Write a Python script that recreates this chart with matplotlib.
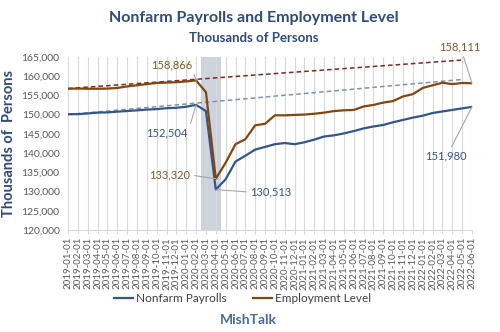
#!/usr/bin/env python3
"""Nonfarm payrolls vs employment level, 2019-2022."""

import matplotlib
matplotlib.use("Agg")
import matplotlib.pyplot as plt

# -------------------------------------------------------------------
# Data (thousands of persons, monthly)
# -------------------------------------------------------------------
months = (
    [f"2019-{m:02d}-01" for m in range(1, 13)]
    + [f"2020-{m:02d}-01" for m in range(1, 13)]
    + [f"2021-{m:02d}-01" for m in range(1, 13)]
    + [f"2022-{m:02d}-01" for m in range(1, 7)]
)

nonfarm = [
    150080, 150100, 150280, 150500, 150560, 150740, 150910, 151090,
    151280, 151420, 151640, 151750, 152030, 152504, 150900, 130513,
    133200, 137800, 139300, 140900, 141600, 142300, 142600, 142300,
    142800, 143500, 144300, 144600, 145100, 145700, 146400, 146900,
    147300, 148000, 148600, 149200, 149700, 150400, 150800, 151200,
    151600, 151980,
]

employment = [
    156700, 156750, 156700, 156700, 156750, 156900, 157300, 157600,
    157900, 158200, 158300, 158400, 158600, 158866, 155800, 133320,
    137500, 142300, 143600, 147200, 147600, 149800, 149800, 149900,
    150000, 150200, 150500, 150900, 151100, 151200, 152100, 152500,
    153100, 153500, 154700, 155300, 156900, 157600, 158250, 157900,
    158200, 158111,
]

# pre-pandemic trend lines (start / end month index and value)
trend_idx = [0, 40]
nonfarm_trend = [150000, 159100]
employment_trend = [156750, 164150]

recession = (13.5, 15.5)

# -------------------------------------------------------------------
# Style
# -------------------------------------------------------------------
BLUE = "#34558b"
BROWN = "#84460f"
TITLE = "#2e4b7a"
TICK = "#595959"
LEADER = "#a6a6a6"
plt.rcParams["font.family"] = ["Lato", "DejaVu Sans"]

fig = plt.figure(figsize=(5.0, 3.32), dpi=100)
ax = fig.add_axes([0.136, 0.307, 0.808, 0.522])

x = list(range(len(months)))

ax.axvspan(*recession, color="#cdd3dc", zorder=1, lw=0)
ax.plot(trend_idx, employment_trend, ls=(0, (3, 2)), color="#7b2a22", lw=1.1, zorder=3)
ax.plot(trend_idx, nonfarm_trend, ls=(0, (3, 2)), color="#7d92b3", lw=1.1, zorder=3)
ax.plot(x, nonfarm, color=BLUE, lw=1.6, zorder=4, label="Nonfarm Payrolls")
ax.plot(x, employment, color=BROWN, lw=1.6, zorder=4, label="Employment Level")

ax.set_xlim(0, len(months) - 1)
ax.set_ylim(120000, 165000)
ax.set_xticks(x)
ax.set_xticklabels(months, rotation=90, fontsize=7, color=TICK)
yt = list(range(120000, 165001, 5000))
ax.set_yticks(yt)
ax.set_yticklabels([f"{v:,}" for v in yt], fontsize=7.5, color=TICK)
ax.tick_params(axis="y", length=0, pad=6)
ax.tick_params(axis="x", length=3, color="#d9d9d9", pad=2)
ax.grid(axis="x", color="#d9d9d9", lw=0.8, zorder=0)
for side in ("top", "right", "left"):
    ax.spines[side].set_visible(False)
ax.spines["bottom"].set_color("#d9d9d9")

ax.set_ylabel("Thousands of  Persons", fontsize=10.5, fontweight="bold",
              color=TITLE, labelpad=4)

# -------------------------------------------------------------------
# Value labels with leader lines
# -------------------------------------------------------------------
labels = [
    (13, nonfarm[13], 10.05, 145200, BLUE, (1.0, 0.5)),
    (13, employment[13], 10.55, 162850, "#7f5a2a", (1.0, 0.0)),
    (15, employment[15], 10.35, 134300, "#7f5a2a", (1.0, 0.5)),
    (15, nonfarm[15], 20.6, 129850, BLUE, (0.0, 0.5)),
    (41, employment[41], 39.8, 167500, "#7f5a2a", (0.55, 0.0)),
    (41, nonfarm[41], 38.3, 139200, BLUE, (0.6, 1.0)),
]
for xi, yi, tx, ty, col, rp in labels:
    ax.annotate(f"{yi:,}", xy=(xi, yi), xytext=(tx, ty), ha="center",
                va="center", fontsize=8, color=col, annotation_clip=False,
                zorder=6,
                arrowprops=dict(arrowstyle="-", color=LEADER, lw=0.8,
                                relpos=rp, shrinkA=1, shrinkB=0))

# -------------------------------------------------------------------
# Titles, legend, footer
# -------------------------------------------------------------------
fig.text(0.507, 0.945, "Nonfarm Payrolls and Employment Level", ha="center",
         va="center", fontsize=11.5, fontweight="bold", color=TITLE)
fig.text(0.507, 0.885, "Thousands of Persons", ha="center", va="center",
         fontsize=9.5, fontweight="bold", color=TITLE)

fig.legend(loc="center", bbox_to_anchor=(0.485, 0.1), ncol=2, frameon=False,
           fontsize=8.5, handlelength=1.6, handletextpad=0.3,
           columnspacing=2.2, labelcolor="#404040")

fig.text(0.496, 0.036, "MishTalk", ha="center", va="center", fontsize=10,
         fontweight="bold", color="#4a6a9a")

fig.savefig("out.png", dpi=100)
plt.close(fig)
